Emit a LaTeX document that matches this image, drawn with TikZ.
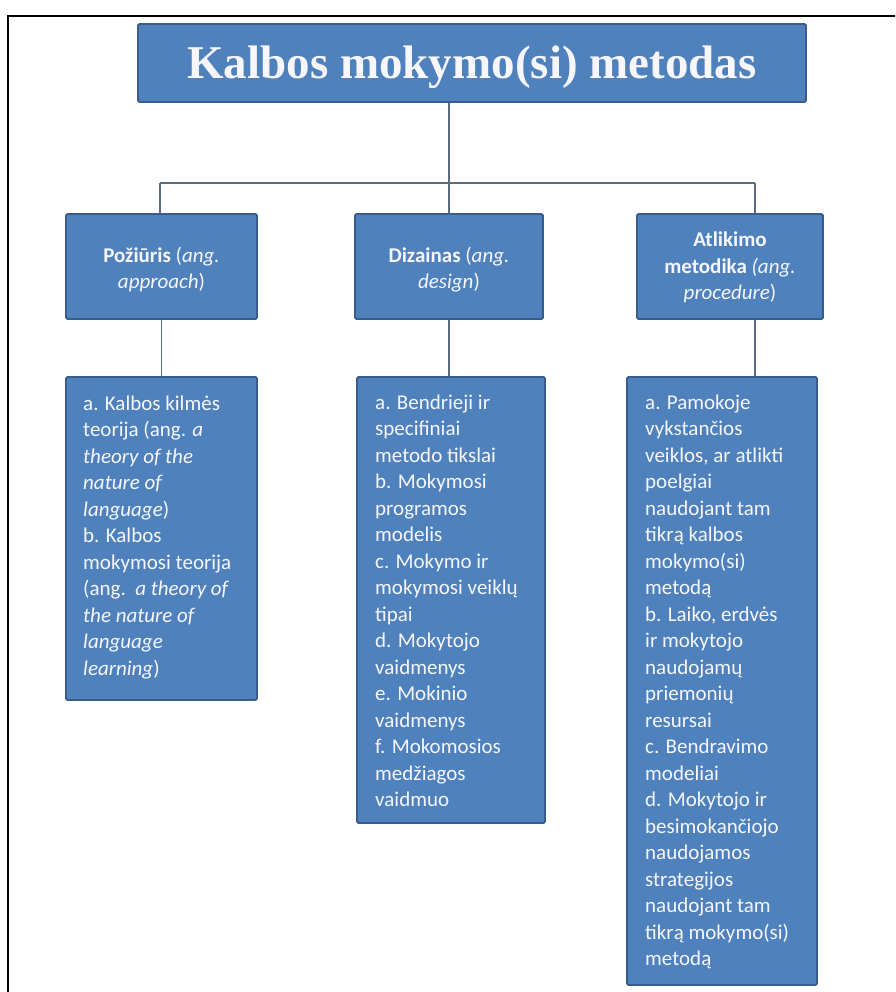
\documentclass[tikz,border=0pt]{standalone}
\usepackage{fontspec}
\setmainfont{Carlito}
\newfontfamily\titlefont{Liberation Serif}
\definecolor{boxfill}{HTML}{4F81BD}
\definecolor{boxline}{HTML}{385D8A}
\definecolor{connline}{HTML}{5B6B7E}
\definecolor{boxtext}{HTML}{F6F6FC}
\tikzset{
  box/.style={draw=boxline, line width=1.8pt, fill=boxfill, rounded corners=1.5pt, inner sep=0pt},
  conn/.style={draw=connline, line width=1.4pt},
  txt/.style={text=boxtext, inner sep=0pt, font=\fontsize{21}{26.5}\selectfont},
  titletxt/.style={text=boxtext, font=\titlefont\bfseries\fontsize{47}{47}\selectfont, text height=31pt, text depth=0pt},
}
\begin{document}
\begin{tikzpicture}[x=1pt,y=-1pt]
\useasboundingbox (0,0) rectangle (895,992);
\clip (0,0) rectangle (895,992);
\fill[white] (0,0) rectangle (895,992);
% outer frame (cropped at right and bottom)
\draw[line width=2pt, black] (8,1010) -- (8,16) -- (910,16);

% title
\node[box, titletxt, minimum width=668pt, minimum height=78pt] (title) at (472,63) {Kalbos mokymo(si) metodas};

% level 2 boxes
\node[box, minimum width=191pt, minimum height=105pt] (poz) at (161.5,266.5) {};
\node[box, minimum width=188pt, minimum height=105pt] (diz) at (449,266.5) {};
\node[box, minimum width=186pt, minimum height=105pt] (atl) at (730,266.5) {};

\node[txt, anchor=base] (pozt) at (161.5,262) {\parbox[t]{185pt}{\centering \textbf{Požiūris} (\textit{ang.}\\ \textit{approach})}};
\node[txt, anchor=base] (dizt) at (449,262) {\parbox[t]{185pt}{\centering \textbf{Dizainas} (\textit{ang.}\\ \textit{design})}};
\node[txt, anchor=base] (atlt) at (730,247) {\parbox[t]{185pt}{\centering \textbf{Atlikimo}\\ \textbf{metodika} \textit{(ang.}\\ \textit{procedure})}};

% level 3 boxes
\node[box, minimum width=191pt, minimum height=323pt] (pozl) at (161.5,538.5) {};
\node[box, minimum width=188pt, minimum height=446pt] (dizl) at (451,600) {};
\node[box, minimum width=190pt, minimum height=608pt] (atll) at (722,681) {};

\node[txt, anchor=base west] (pozlt) at (83,410) {\parbox[t]{200pt}{\raggedright
a. Kalbos kilmės\\
teorija (ang. \textit{a}\\
\textit{theory of the}\\
\textit{nature of}\\
\textit{language})\\
b. Kalbos\\
mokymosi teorija\\
(ang.\ \ \textit{a theory of}\\
\textit{the nature of}\\
\textit{language}\\
\textit{learning})}};

\node[txt, anchor=base west] (dizlt) at (375,409) {\parbox[t]{200pt}{\raggedright
a. Bendrieji ir\\
specifiniai\\
metodo tikslai\\
b. Mokymosi\\
programos\\
modelis\\
c. Mokymo ir\\
mokymosi veiklų\\
tipai\\
d. Mokytojo\\
vaidmenys\\
e. Mokinio\\
vaidmenys\\
f. Mokomosios\\
medžiagos\\
vaidmuo}};

\node[txt, anchor=base west] (atllt) at (645,409) {\parbox[t]{200pt}{\raggedright
a. Pamokoje\\
vykstančios\\
veiklos, ar atlikti\\
poelgiai\\
naudojant tam\\
tikrą kalbos\\
mokymo(si)\\
metodą\\
b. Laiko, erdvės\\
ir mokytojo\\
naudojamų\\
priemonių\\
resursai\\
c. Bendravimo\\
modeliai\\
d. Mokytojo ir\\
besimokančiojo\\
naudojamos\\
strategijos\\
naudojant tam\\
tikrą mokymo(si)\\
metodą}};

% connectors
\coordinate (hl) at (160,183);
\coordinate (hm) at (449,183);
\coordinate (hr) at (755,183);
\draw[conn] (hm |- title.south) -- (hm);
\draw[conn] (hl) -- (hr);
\draw[conn] (hl) -- (hl |- poz.north);
\draw[conn] (hm) -- (hm |- diz.north);
\draw[conn] (hr) -- (hr |- atl.north);
\draw[conn] (poz.south) -- (poz.south |- pozl.north);
\draw[conn] (diz.south) -- (diz.south |- dizl.north);
\draw[conn] (hr |- atl.south) -- (hr |- atll.north);
\end{tikzpicture}
\end{document}
